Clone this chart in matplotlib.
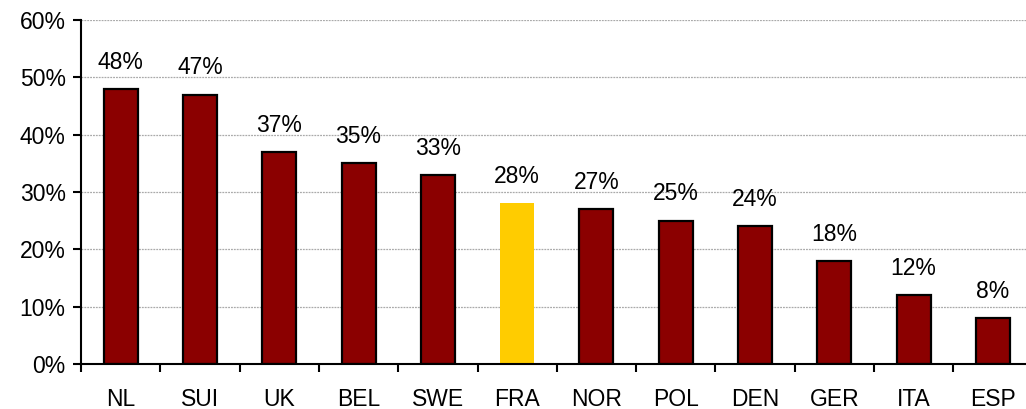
import matplotlib
matplotlib.use("Agg")
import matplotlib.pyplot as plt
import numpy as np
from matplotlib.ticker import PercentFormatter, FixedLocator

categories = ["NL", "SUI", "UK", "BEL", "SWE", "FRA", "NOR", "POL", "DEN", "GER", "ITA", "ESP"]
values = [48, 47, 37, 35, 33, 28, 27, 25, 24, 18, 12, 8]
highlight = "FRA"

plt.rcParams['font.family'] = ['Liberation Sans', 'DejaVu Sans']

fig = plt.figure(figsize=(10.26, 4.09), dpi=100)
ax = fig.add_axes([81/1026, 45/409, 951.6/1026, 344/409])

x = np.arange(len(categories))
colors = ["#FFCC00" if c == highlight else "#8B0000" for c in categories]
edges = ["none" if c == highlight else "black" for c in categories]
bars = ax.bar(x, values, width=0.43, color=colors, edgecolor=edges, linewidth=1.6, zorder=3)

for xi, v in zip(x, values):
    ax.annotate(f"{v}%", (xi, v), xytext=(0, 11), textcoords="offset points",
                ha="center", va="bottom", fontsize=16.5)

ax.set_xlim(-0.5, len(categories) - 0.5)
ax.set_ylim(0, 60)
ax.set_yticks(range(0, 61, 10))
ax.yaxis.set_major_formatter(PercentFormatter(decimals=0))
ax.set_xticks(x)
ax.set_xticklabels(categories)
ax.xaxis.set_minor_locator(FixedLocator(np.arange(-0.5, len(categories), 1.0)))
ax.tick_params(axis='x', which='major', length=0, pad=17, labelsize=16.5)
ax.tick_params(axis='x', which='minor', length=6, width=1.5, direction='out')
ax.tick_params(axis='y', which='major', length=6, width=1.5, direction='out', labelsize=16.5, pad=5)

for y in range(10, 61, 10):
    ax.axhline(y, color="#aaaaaa", linestyle=(0, (1.5, 0.8)), linewidth=0.9, zorder=1)

for s in ["top", "right"]:
    ax.spines[s].set_visible(False)
ax.spines["left"].set_linewidth(1.5)
ax.spines["bottom"].set_linewidth(1.5)
ax.spines["bottom"].set_zorder(4)

fig.savefig("out.png", dpi=100)
